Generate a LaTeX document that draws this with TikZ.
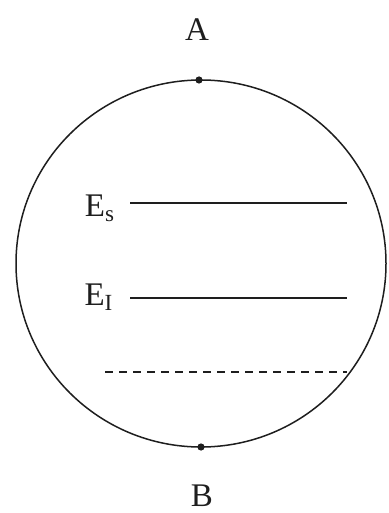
\documentclass[tikz,border=0pt]{standalone}
\usepackage{fontspec}
\setmainfont{Liberation Serif}
\usetikzlibrary{positioning}
\definecolor{ink}{HTML}{1E1E1E}

\begin{document}
\begin{tikzpicture}[x=0.5pt,y=-0.5pt,
    level/.style={draw=ink,line width=0.8pt},
    lbl/.style={text=ink,inner sep=1pt,font=\fontsize{16.5}{19}\selectfont}]
  \useasboundingbox (0,0) rectangle (389,513);
  % sphere
  \draw[ink,line width=0.75pt] (201,263.5) ellipse [x radius=185,y radius=183.5];
  \coordinate (ptA) at (199,80);
  \coordinate (ptB) at (201,447);
  \fill[ink] (ptA) circle (1.8pt);
  \fill[ink] (ptB) circle (1.8pt);
  \node[lbl] (lblA) at (197,30) {A};
  \node[lbl] (lblB) at (202,496) {B};
  % levels
  \node[lbl] (lblEs) at (100,208) {E\textsubscript{s}};
  \node[lbl] (lblEi) at (99,297) {E\textsubscript{I}};
  \coordinate (esL) at (130,203);  \coordinate (esR) at (347,203);
  \coordinate (eiL) at (130,298);  \coordinate (eiR) at (347,298);
  \coordinate (dsL) at (105,372);  \coordinate (dsR) at (347,372);
  \draw[level] (esL) -- (esR);
  \draw[level] (eiL) -- (eiR);
  \draw[level,line width=0.65pt,dash pattern=on 4pt off 3pt] (dsL) -- (dsR);
\end{tikzpicture}
\end{document}
